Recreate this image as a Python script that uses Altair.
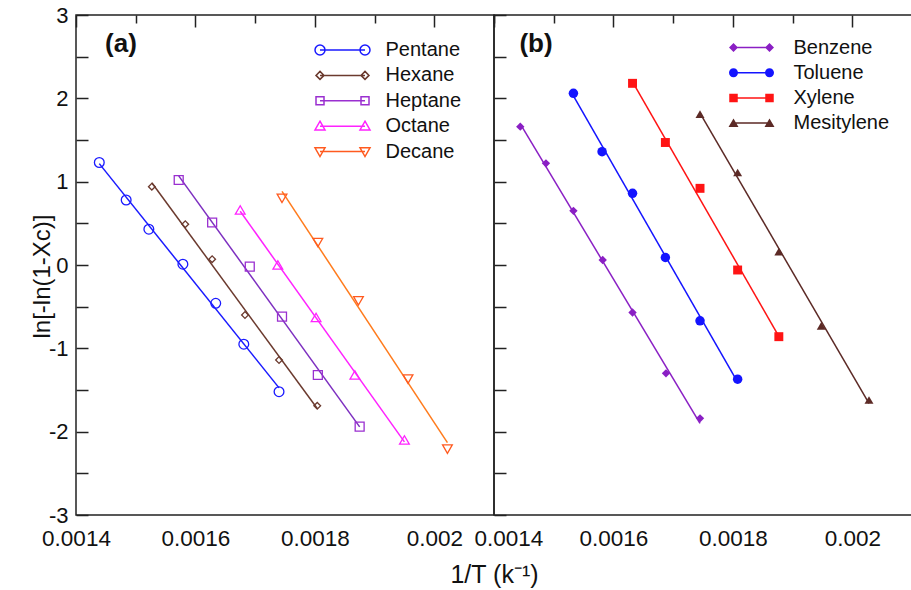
import altair as alt
import pandas as pd

FONT = "Liberation Sans"

# ---------------- data ----------------
# panel (a): alkanes
pentane_x = [0.001439, 0.001484, 0.001522, 0.001579, 0.001634, 0.001681, 0.001740]
pentane_y = [1.23, 0.78, 0.43, 0.01, -0.46, -0.95, -1.52]
hexane_x = [0.001527, 0.001583, 0.001628, 0.001683, 0.001740, 0.001804]
hexane_y = [0.94, 0.49, 0.07, -0.60, -1.14, -1.69]
heptane_x = [0.001572, 0.001628, 0.001691, 0.001745, 0.001805, 0.001875]
heptane_y = [1.02, 0.51, -0.02, -0.62, -1.32, -1.94]
octane_x = [0.001675, 0.001738, 0.001802, 0.001867, 0.001950]
octane_y = [0.66, 0.00, -0.63, -1.32, -2.10]
decane_x = [0.001745, 0.001805, 0.001873, 0.001956, 0.002022]
decane_y = [0.80, 0.27, -0.43, -1.37, -2.21]

# panel (b): aromatics
benzene_x = [0.001444, 0.001487, 0.001533, 0.001582, 0.001632, 0.001688, 0.001745]
benzene_y = [1.66, 1.22, 0.65, 0.06, -0.57, -1.30, -1.84]
toluene_x = [0.001533, 0.001581, 0.001632, 0.001687, 0.001745, 0.001808]
toluene_y = [2.06, 1.36, 0.86, 0.09, -0.67, -1.37]
xylene_x = [0.001632, 0.001687, 0.001745, 0.001808, 0.001877]
xylene_y = [2.18, 1.47, 0.92, -0.06, -0.86]
mesitylene_x = [0.001745, 0.001808, 0.001877, 0.001948, 0.002028]
mesitylene_y = [1.81, 1.11, 0.16, -0.73, -1.62]

names_a = ["Pentane", "Hexane", "Heptane", "Octane", "Decane"]
names_b = ["Benzene", "Toluene", "Xylene", "Mesitylene"]
panel_labels = ["(a)", "(b)"]

x_ticks = [0.0014, 0.0015, 0.0016, 0.0017, 0.0018, 0.0019, 0.002, 0.0021]
y_ticks = [-3, -2.5, -2, -1.5, -1, -0.5, 0, 0.5, 1, 1.5, 2, 2.5, 3]

# ---------------- styles ----------------
marker_colors_a = ["#1a1aff", "#6b3a2e", "#9a2fd0", "#ff22ff", "#ff5a1f"]
line_colors_a = ["#1a1aff", "#6b3a2e", "#7d2fc0", "#ff22ff", "#ff7b1c"]
shapes_a = ["circle", "diamond", "square", "triangle-up", "triangle-down"]
sizes_a = [95, 45, 80, 95, 95]

colors_b = ["#8a1fc4", "#1414ff", "#ff1414", "#5c2a26"]
shapes_b = ["diamond", "circle", "square", "triangle-up"]
sizes_b = [70, 90, 80, 80]

legend_paths_a = [
    "M-4.5,0H4.5M-3.5,0A1,1,0,1,1,-5.5,0A1,1,0,1,1,-3.5,0M5.5,0A1,1,0,1,1,3.5,0A1,1,0,1,1,5.5,0",
    "M-4.5,0H4.5M-4.5,-0.8L-3.7,0L-4.5,0.8L-5.3,0ZM4.5,-0.8L5.3,0L4.5,0.8L3.7,0Z",
    "M-4.5,0H4.5M-5.3,-0.8H-3.7V0.8H-5.3ZM3.7,-0.8H5.3V0.8H3.7Z",
    "M-4.5,0H4.5M-4.5,-1L-3.5,0.75H-5.5ZM4.5,-1L5.5,0.75H3.5Z",
    "M-4.5,0H4.5M-5.5,-0.75H-3.5L-4.5,1ZM3.5,-0.75H5.5L4.5,1Z",
]
bar_b = "M-3.6,-0.15H3.6V0.15H-3.6Z"
legend_paths_b = [
    bar_b + "M-3.6,-0.9L-2.7,0L-3.6,0.9L-4.5,0ZM3.6,-0.9L4.5,0L3.6,0.9L2.7,0Z",
    bar_b + "M-2.7,0A0.9,0.9,0,1,1,-4.5,0A0.9,0.9,0,1,1,-2.7,0ZM4.5,0A0.9,0.9,0,1,1,2.7,0A0.9,0.9,0,1,1,4.5,0Z",
    bar_b + "M-4.45,-0.85H-2.75V0.85H-4.45ZM2.75,-0.85H4.45V0.85H2.75Z",
    bar_b + "M-3.6,-0.9L-2.6,0.8H-4.6ZM3.6,-0.9L4.6,0.8H2.6Z",
]

W, H = 418, 500
GRID = "#222222"

def frame(xs_list, ys_list, names):
    rows = []
    for n, xs, ys in zip(names, xs_list, ys_list):
        for xv, yv in zip(xs, ys):
            rows.append({"series": n, "x": xv, "y": yv})
    return pd.DataFrame(rows)

df_a = frame([pentane_x, hexane_x, heptane_x, octane_x, decane_x],
             [pentane_y, hexane_y, heptane_y, octane_y, decane_y], names_a)
df_b = frame([benzene_x, toluene_x, xylene_x, mesitylene_x],
             [benzene_y, toluene_y, xylene_y, mesitylene_y], names_b)

major_x = "round(datum.value * 10000) % 2 === 0"
major_y = "round(datum.value * 2) % 2 === 0"

def x_enc(first_panel):
    kw = dict(
        values=x_ticks, format=".4~f",
        labelExpr=f"{major_x} ? datum.label : ''",
        ticks=False, domain=False, grid=True, gridColor=GRID, gridWidth=1.5, gridOpacity=1,
        gridDash={"condition": {"test": major_x, "value": [12, 1000]}, "value": [8, 1000]},
        labelFont=FONT, labelFontSize=22.5, labelColor="#111111", labelPadding=12,
        labelOverlap=False,
    )
    if first_panel:
        kw.update(labelFlush=False,
                  title="1/T (k\u207b\u00b9)", titleFont=FONT, titleFontSize=25,
                  titleFontWeight="normal", titleColor="#111111", titleX=W, titleY=59,
                  titleAlign="center", titleBaseline="middle")
    else:
        kw.update(labelFlush=True, labelFlushOffset=20, title=None)
    return alt.X("x:Q", scale=alt.Scale(domain=[0.0014, 0.0021], nice=False, zero=False),
                 axis=alt.Axis(**kw))

def y_enc(show_labels):
    kw = dict(
        values=y_ticks, ticks=False, domain=False, grid=True, gridColor=GRID,
        gridWidth=1.5, gridOpacity=1, gridDash=[12, 1000],
    )
    if show_labels:
        kw.update(labelExpr=f"{major_y} ? '' + datum.value : ''", labelFont=FONT,
                  labelFontSize=22, labelColor="#111111", labelPadding=8,
                  labelOverlap=False, labelFlush=False,
                  title="ln[-ln(1-X\u1d04)]", titleFont=FONT, titleFontSize=24,
                  titleFontWeight="normal", titleColor="#111111", titleX=-34, titleY=261,
                  titleAngle=270, titleAlign="center", titleBaseline="middle")
    else:
        kw.update(labels=False, title=None)
    return alt.Y("y:Q", scale=alt.Scale(domain=[-3, 3], nice=False, zero=False),
                 axis=alt.Axis(**kw))

def panel(df, names, marker_colors, line_colors, shapes, sizes, filled, paths,
          leg_x, leg_y0, leg_dy, sym_off, lab_off, label, label_x, first):
    xe, ye = x_enc(first), y_enc(first)
    lines = alt.Chart(df).transform_regression(
        "x", "y", groupby=["series"]
    ).mark_line(strokeWidth=1.5).encode(
        x=xe, y=ye,
        color=alt.Color("series:N", scale=alt.Scale(domain=names, range=line_colors), legend=None),
    )
    layers = [lines]
    for i, n in enumerate(names):
        pts = alt.Chart(df).transform_filter(
            alt.datum.series == n
        ).mark_point(shape=shapes[i], filled=filled, size=sizes[i], opacity=1,
                     strokeWidth=1.3).encode(
            x=xe, y=ye,
            color=alt.Color("series:N", scale=alt.Scale(domain=[n], range=[marker_colors[i]]),
                            legend=alt.Legend(title=None, orient="none",
                                              legendX=leg_x, legendY=leg_y0 + i * leg_dy,
                                              symbolType=paths[i], symbolSize=100,
                                              symbolOffset=sym_off, labelOffset=lab_off,
                                              symbolStrokeWidth=1.5, padding=0,
                                              labelFont=FONT, labelFontSize=20,
                                              labelColor="#111111")),
        )
        layers.append(pts)
    txt = alt.Chart(pd.DataFrame({"t": [label]})).mark_text(
        font=FONT, fontSize=26, fontWeight="bold", color="#111111",
        align="center", baseline="middle"
    ).encode(text="t:N", x=alt.value(label_x), y=alt.value(29))
    layers.append(txt)
    return alt.layer(*layers).resolve_scale(color="independent").properties(width=W, height=H)

panel_a = panel(df_a, names_a, marker_colors_a, line_colors_a, shapes_a, sizes_a, False,
                legend_paths_a, 234, 25, 25.4, 22.5, 33, panel_labels[0], 45, True)
panel_b = panel(df_b, names_b, colors_b, colors_b, shapes_b, sizes_b, True,
                legend_paths_b, 230, 22.5, 25.2, 17.5, 32, panel_labels[1], 42, False)

chart = alt.hconcat(panel_a, panel_b, spacing=0, bounds="flush").configure_view(
    stroke=GRID, strokeWidth=1.5
).properties(
    padding={"left": 29, "top": 3, "right": -22, "bottom": 0},
    background="white",
)

chart.save("out.html", embed_options={"renderer": "svg", "actions": False})
